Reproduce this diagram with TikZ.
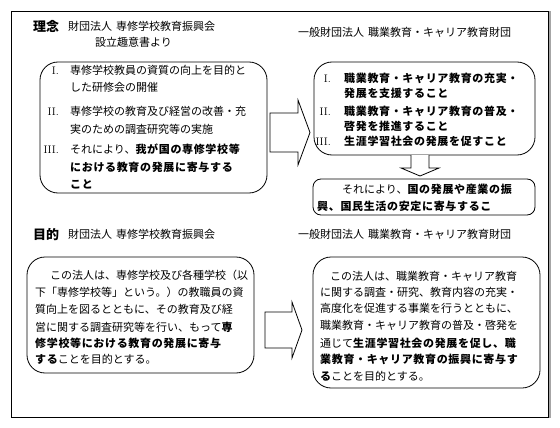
\documentclass[tikz,border=0pt]{standalone}
\usepackage{fontspec}
\newfontfamily\jp{Noto Sans CJK JP}
\newfontfamily\jpb{Noto Sans CJK JP}[LetterSpace=6]
\XeTeXlinebreaklocale "ja"
\XeTeXlinebreakskip=0pt plus 4pt
\newcommand\jsz{\fontsize{11}{13}\selectfont}
\newcommand\bt[1]{{\jpb\bfseries #1}}
\newcommand\jline[2]{\makebox[#1][s]{#2}}
\newcommand\gap{\hspace{4pt}}
\begin{document}
\begin{tikzpicture}[x=1pt,y=-1pt,
 txt/.style={anchor=base west,inner sep=0pt,font=\jp\jsz},
 num/.style={anchor=base east,inner sep=0pt,font=\rmfamily\jsz},
 ttl/.style={anchor=base west,inner sep=0pt,font=\jp\bfseries\fontsize{13}{15}\selectfont},
 bigbox/.style={draw,line width=0.8pt,rounded corners=18pt},
 smallbox/.style={draw,line width=0.8pt,rounded corners=8pt},
 blockarrow/.style={draw,line width=0.8pt,fill=white,line join=miter},
]
\useasboundingbox (0,0) rectangle (560,428);
% frame
\draw[line width=0.8pt] (11,11) rectangle (548,417);
\draw[gray!70,line width=2.5pt] (550,11) -- (550,418);

% headings
\node[ttl] (h1) at (33,31.5) {理念};
\node[txt] (h2) at (68,30.5) {\jline{154pt}{財団法人\gap 専修学校教育振興会}};
\node[txt] (h3) at (95,46.5) {\jline{83pt}{設立趣意書より}};
\node[txt] (h4) at (298,36.5) {\jline{219pt}{一般財団法人\gap 職業教育・キャリア教育財団}};
\node[ttl] (h5) at (33,239) {目的};
\node[txt] (h6) at (68,238) {\jline{154pt}{財団法人\gap 専修学校教育振興会}};
\node[txt] (h7) at (298,238) {\jline{214pt}{一般財団法人\gap 職業教育・キャリア教育財団}};

% boxes
\draw[bigbox] (40,62) rectangle (267,193);
\draw[bigbox] (314,62) rectangle (535,155);
\draw[smallbox] (313,179) rectangle (535,215);
\draw[bigbox] (27,257) rectangle (254,373);
\draw[bigbox] (313,257) rectangle (540,388);

% arrows
\draw[blockarrow] (270,113) -- (298,113) -- (298,100) -- (310,132.5) -- (298,165) -- (298,152) -- (270,152) -- cycle;
\draw[blockarrow] (265,312) -- (292,312) -- (292,302) -- (302,330) -- (292,358) -- (292,348) -- (265,348) -- cycle;
\draw[blockarrow] (411,155) -- (411,168) -- (401,168) -- (420,176) -- (439,168) -- (429,168) -- (429,155);

% top-left box text
\node[num] (n1) at (59,75) {I.};
\node[txt] (a1) at (70,75) {\jline{178pt}{専修学校教員の資質の向上を目的と}};
\node[txt] (a2) at (70,92) {した研修会の開催};
\node[num] (n2) at (59,115) {II.};
\node[txt] (a3) at (70,115) {\jline{178pt}{専修学校の教育及び経営の改善・充}};
\node[txt] (a4) at (70,133) {実のための調査研究等の実施};
\node[num] (n3) at (59,153) {III.};
\node[txt] (a5) at (70,153) {\jline{178pt}{それにより、\bt{我が国の専修学校等}}};
\node[txt] (a6) at (70,171) {\jline{178pt}{\bt{における教育の発展に寄与する}}};
\node[txt] (a7) at (70,188) {\bt{こと}};

% top-right box text
\node[num] (m1) at (331,83) {I.};
\node[txt] (b1) at (344,83) {\jline{178pt}{\bt{職業教育・キャリア教育の充実・}}};
\node[txt] (b2) at (344,98) {\bt{発展を支援すること}};
\node[num] (m2) at (331,116) {II.};
\node[txt] (b3) at (344,116) {\jline{178pt}{\bt{職業教育・キャリア教育の普及・}}};
\node[txt] (b4) at (344,131) {\bt{啓発を推進すること}};
\node[num] (m3) at (331,145) {III.};
\node[txt] (b5) at (344,145) {\jline{182pt}{\bt{生涯学習社会の発展を促すこと}}};

% small box text
\node[txt] (c1) at (342,193.5) {\jline{183pt}{それにより、\bt{国の発展や産業の振}}};
\node[txt] (c2) at (317,210.5) {\jline{208pt}{\bt{興、国民生活の安定に寄与するこ}}};

% bottom-left box text
\node[txt] (d1) at (50,279) {\jline{198pt}{この法人は、専修学校及び各種学校（以}};
\node[txt] (d2) at (35,296) {\jline{213pt}{下「専修学校等」という。）の教職員の資}};
\node[txt] (d3) at (35,313) {\jline{213pt}{質向上を図るとともに、その教育及び経}};
\node[txt] (d4) at (35,331) {\jline{213pt}{営に関する調査研究等を行い、もって\bt{専}}};
\node[txt] (d5) at (35,347) {\jline{213pt}{\bt{修学校等における教育の発展に寄与}}};
\node[txt] (d6) at (35,363) {\bt{する}ことを目的とする。};

% bottom-right box text
\node[txt] (e1) at (330,280) {\jline{195pt}{この法人は、職業教育・キャリア教育}};
\node[txt] (e2) at (320,296) {\jline{205pt}{に関する調査・研究、教育内容の充実・}};
\node[txt] (e3) at (320,312) {\jline{205pt}{高度化を促進する事業を行うとともに、}};
\node[txt] (e4) at (320,329) {\jline{205pt}{職業教育・キャリア教育の普及・啓発を}};
\node[txt] (e5) at (320,347) {\jline{205pt}{通じて\bt{生涯学習社会の発展を促し、職}}};
\node[txt] (e6) at (320,363) {\jline{205pt}{\bt{業教育・キャリア教育の振興に寄与す}}};
\node[txt] (e7) at (320,380) {\bt{る}ことを目的とする。};
\end{tikzpicture}
\end{document}
